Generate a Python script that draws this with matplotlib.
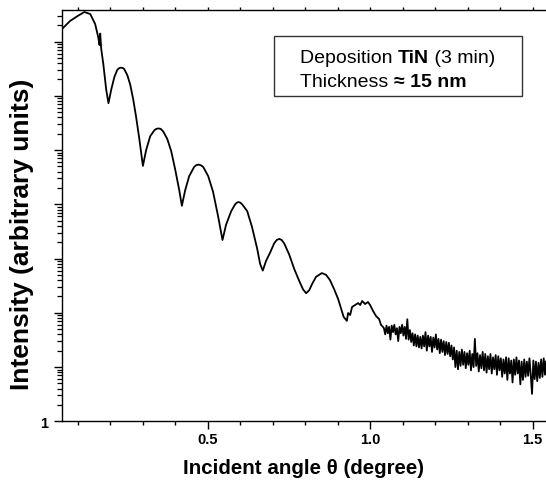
import numpy as np
import matplotlib
matplotlib.use("Agg")
import matplotlib.pyplot as plt
from matplotlib.ticker import FixedLocator, MultipleLocator, FuncFormatter
from matplotlib.patches import Rectangle
from matplotlib.text import Annotation

plt.rcParams['font.family'] = ['Liberation Sans', 'DejaVu Sans']

# reflectivity scan, Kiessig fringe region
theta_low = [0.051, 0.076, 0.101, 0.120, 0.138, 0.153, 0.1625, 0.1665, 0.1686, 0.1717,
             0.178, 0.187, 0.194, 0.2025, 0.212, 0.221, 0.226, 0.232, 0.238, 0.2425,
             0.252, 0.261, 0.270, 0.279, 0.289, 0.300, 0.310, 0.3225, 0.335, 0.341,
             0.348, 0.355, 0.3625, 0.375, 0.387, 0.399, 0.412, 0.420, 0.430, 0.4425,
             0.458, 0.464, 0.471, 0.478, 0.4855, 0.501, 0.516, 0.532, 0.545, 0.556,
             0.572, 0.584, 0.589, 0.594, 0.600, 0.6055, 0.621, 0.636, 0.652, 0.661,
             0.669, 0.679, 0.692, 0.704, 0.712, 0.720, 0.727, 0.735, 0.750, 0.766,
             0.781, 0.793, 0.8025, 0.812, 0.821, 0.833, 0.851, 0.864, 0.876, 0.889,
             0.901, 0.910, 0.918, 0.928, 0.9317, 0.938, 0.944, 0.9535, 0.9625, 0.969,
             0.975, 0.984, 0.993, 0.9994, 1.0086, 1.0178, 1.027, 1.033, 1.039]
counts_low = [1.7e7, 2.4e7, 3.0e7, 3.5e7, 3.2e7, 2.1e7, 1.2e7, 8.6e6, 1.4e7, 7.3e6,
              3.9e6, 1.3e6, 7.3e5, 1.3e6, 2.2e6, 3.0e6, 3.2e6, 3.3e6, 3.25e6, 3.1e6,
              2.4e6, 1.6e6, 8.7e5, 4.1e5, 1.6e5, 5.1e4, 1.0e5, 1.8e5, 2.3e5, 2.45e5,
              2.5e5, 2.45e5, 2.2e5, 1.6e5, 9.6e4, 4.5e4, 1.8e4, 9.4e3, 1.8e4, 3.3e4,
              4.9e4, 5.25e4, 5.4e4, 5.25e4, 4.9e4, 3.3e4, 1.7e4, 5.8e3, 2.2e3, 4.2e3,
              7.5e3, 1.0e4, 1.07e4, 1.1e4, 1.07e4, 1.0e4, 7.5e3, 3.8e3, 1.5e3, 7.9e2,
              6.0e2, 9.0e2, 1.3e3, 1.9e3, 2.2e3, 2.3e3, 2.2e3, 1.9e3, 1.2e3, 6.4e2,
              3.9e2, 2.7e2, 2.3e2, 2.6e2, 3.4e2, 4.6e2, 5.4e2, 5.0e2, 4.0e2, 2.7e2,
              1.8e2, 1.2e2, 84, 71, 99, 91, 128, 139, 151, 139,
              165, 145, 158, 139, 108, 87, 77, 60, 55]

# noisy high-angle tail
theta_high = [1.042, 1.046, 1.050, 1.054, 1.058, 1.062, 1.066, 1.070, 1.074, 1.078,
              1.082, 1.086, 1.090, 1.094, 1.098, 1.102, 1.106, 1.110, 1.114, 1.118,
              1.122, 1.126, 1.130, 1.134, 1.138, 1.142, 1.146, 1.150, 1.154, 1.158,
              1.162, 1.166, 1.170, 1.174, 1.178, 1.182, 1.186, 1.190, 1.194, 1.198,
              1.202, 1.206, 1.210, 1.214, 1.218, 1.222, 1.226, 1.230, 1.234, 1.238,
              1.242, 1.246, 1.250, 1.254, 1.258, 1.262, 1.266, 1.270, 1.274, 1.278,
              1.282, 1.286, 1.290, 1.294, 1.298, 1.302, 1.306, 1.310, 1.314, 1.318,
              1.322, 1.326, 1.330, 1.334, 1.338, 1.342, 1.346, 1.350, 1.354, 1.358,
              1.362, 1.366, 1.370, 1.374, 1.378, 1.382, 1.386, 1.390, 1.394, 1.398,
              1.402, 1.406, 1.410, 1.414, 1.418, 1.422, 1.426, 1.430, 1.434, 1.438,
              1.442, 1.446, 1.450, 1.454, 1.458, 1.462, 1.466, 1.470, 1.474, 1.478,
              1.482, 1.486, 1.490, 1.494, 1.498, 1.502, 1.506, 1.510, 1.514, 1.518,
              1.522, 1.526, 1.530, 1.534, 1.538, 1.541]
counts_high = [52, 40, 58, 42, 55, 32, 58, 44, 60, 40,
               52, 30, 55, 42, 60, 38, 55, 33, 76, 32,
               48, 29, 42, 25, 40, 24, 38, 23, 36, 22,
               38, 24, 44, 20, 38, 24, 36, 19, 35, 23,
               40, 21, 33, 18, 32, 19, 30, 16.6, 29, 17.4,
               28, 15.8, 25, 13.8, 23, 10, 20, 9.1, 19, 10.5,
               21, 11.0, 19, 9.5, 18, 11.0, 20, 8.7, 17.4, 10,
               33, 10.5, 18, 8.3, 16.6, 9.5, 19, 8.7, 17.4, 7.9,
               15.8, 9.1, 17.4, 7.6, 15.1, 9.1, 16.6, 7.2, 15.8, 8.7,
               14.5, 6.6, 13.8, 7.6, 15.1, 5.8, 14.5, 7.6, 13.2, 5.2,
               13.8, 7.2, 15.1, 7.6, 13.2, 4.8, 12.6, 5.8, 13.8, 6.6,
               12.6, 6.9, 14.5, 7.2, 3.2, 13.2, 6.0, 12.6, 5.5, 12.0,
               6.3, 13.8, 6.6, 14.5, 7.2, 12.6]

x_ticks = [0.5, 1.0, 1.5]
note_lines = [[('Deposition ', 'normal'), ('TiN', 'bold'), (' (3 min)', 'normal')],
              [('Thickness ', 'normal'), ('≈ 15 nm', 'bold')]]

theta = np.array(theta_low + theta_high)
counts = np.array(counts_low + counts_high)

W, H = 546, 481
fig = plt.figure(figsize=(W / 100, H / 100), dpi=100)
left, right, bottom, top = 61.7, 546, 422.3, 10.5
ax = fig.add_axes([left / W, 1 - bottom / H, (right - left) / W, (bottom - top) / H])

ax.plot(theta, counts, color='black', lw=1.3)

ax.set_yscale('log')
ax.set_xlim(0.05, 1.541)
ax.set_ylim(1, 10 ** 7.59)

ax.spines['right'].set_visible(False)
for s in ('left', 'bottom', 'top'):
    ax.spines[s].set_linewidth(1.0)

ax.xaxis.set_major_locator(FixedLocator(x_ticks))
ax.xaxis.set_minor_locator(MultipleLocator(0.1))
ax.xaxis.set_major_formatter(FuncFormatter(lambda v, p: f"{v:.1f}"))
ax.yaxis.set_major_locator(FixedLocator([10.0 ** k for k in range(8)]))
ax.yaxis.set_major_formatter(FuncFormatter(lambda v, p: "1" if abs(v - 1) < 1e-9 else ""))

ax.tick_params(axis='x', which='major', direction='out', length=5.5, width=1.0,
               labelsize=10.5, top=True, pad=2.5)
ax.tick_params(axis='x', which='minor', direction='out', length=2.7, width=1.0, top=True)
ax.tick_params(axis='y', which='major', direction='out', length=5.5, width=1.0,
               labelsize=10.5, pad=4)
ax.tick_params(axis='y', which='minor', direction='out', length=3.6, width=0.9)
for lab in ax.get_xticklabels() + ax.get_yticklabels():
    lab.set_fontweight('bold')
# top ticks are only tiny stubs
for t in ax.xaxis.get_major_ticks() + ax.xaxis.get_minor_ticks():
    t.tick2line.set_markersize(2)

ax.set_xlabel('Incident angle θ (degree)', fontsize=14.8, fontweight='bold', labelpad=8)
fig.text(22 / W, 1 - 234 / H, 'Intensity (arbitrary units)', fontsize=19,
         fontweight='bold', rotation=90, ha='center', va='center')

# note box in the upper right
fig.patches.append(Rectangle((274 / W, 1 - 97 / H), 248 / W, 60 / H,
                             transform=fig.transFigure, fill=False,
                             edgecolor='#333333', lw=1.0))
for parts, ypix in zip(note_lines, (63, 87)):
    prev = fig.text(300 / W, 1 - ypix / H, parts[0][0], fontsize=14,
                    fontweight=parts[0][1], va='baseline', ha='left')
    for txt, wt in parts[1:]:
        prev = fig.add_artist(Annotation(txt, xy=(1, 0), xycoords=prev, fontsize=14,
                                         fontweight=wt, va='bottom', ha='left'))

fig.savefig('out.png', dpi=100)
